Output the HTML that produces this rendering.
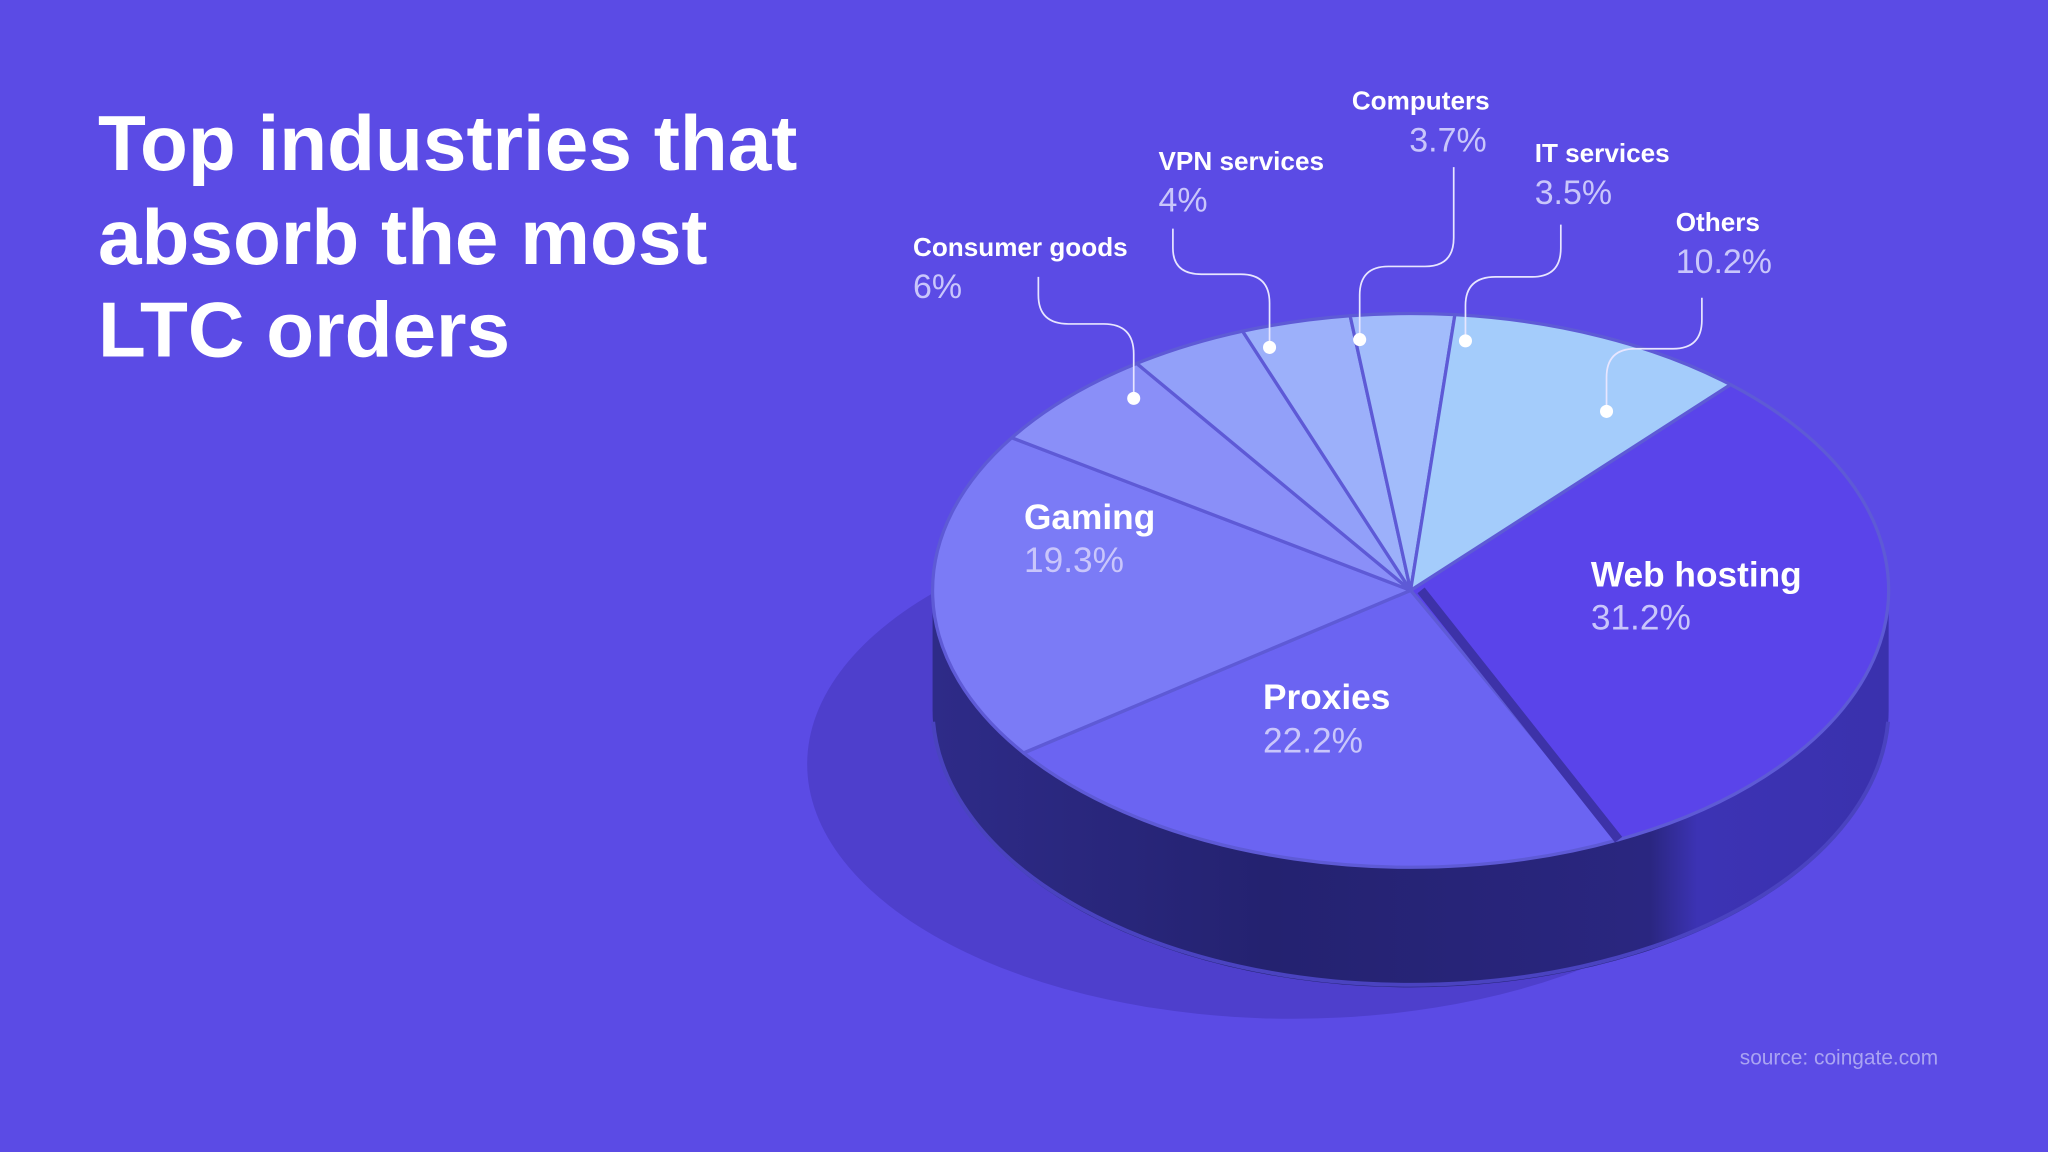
<!DOCTYPE html>
<html><head><meta charset="utf-8"><style>
html,body{margin:0;padding:0;background:#5b4be5;}
svg{display:block;font-family:"Liberation Sans",sans-serif;}
</style></head><body>
<svg id="chart" width="2048" height="1152" viewBox="0 0 1568 882" xmlns="http://www.w3.org/2000/svg">
<defs>
<linearGradient id="side" x1="0" x2="1" y1="0" y2="0">
<stop offset="0" stop-color="#2e2b88"/><stop offset="0.35" stop-color="#242270"/><stop offset="0.75" stop-color="#2a2680"/><stop offset="0.8" stop-color="#3c33b4"/><stop offset="1" stop-color="#3a31ad"/>
</linearGradient>
</defs>
<rect width="1568" height="882" fill="#5b4be5"/>
<text fill="#fff" font-size="60" font-weight="bold">
<tspan x="75" y="130">Top industries that</tspan><tspan x="75" y="202">absorb the most</tspan><tspan x="75" y="273">LTC orders</tspan></text>
<ellipse cx="990" cy="585" rx="372" ry="195" fill="#4e3fcc"/>
<g id="pie"></g>
<g id="labels"></g>
<text x="1332" y="815" font-size="16" fill="#aaa4f2">source: coingate.com</text>
</svg>
<script>
const categories=["Web hosting","Proxies","Gaming","Consumer goods","VPN services","Computers","IT services","Others"];
const values=[31.2,22.2,19.3,6,4,3.7,3.5,10.2];
const colors=["#5a44ea","#6b64f2","#7b7bf6","#8a8ff8","#92a0f9","#9cb0fa","#a2bcfb","#a4ccfb"];
const startDeg=-48;
const cx=1080,cy=452,rx=366,ry=212,depth=92;
const NS="http://www.w3.org/2000/svg";
const pie=document.getElementById('pie');
function P(t,dx,dy){return [cx+dx+rx*Math.cos(t),cy+dy+ry*Math.sin(t)];}
const total=values.reduce((a,b)=>a+b,0);
const side=document.createElementNS(NS,'path');
let d="M"+P(0,0,0).join(",")+" A"+rx+","+ry+" 0 0 1 "+P(Math.PI,0,0).join(",")+" L"+P(Math.PI,0,depth).join(",")+" A"+rx+","+ry+" 0 0 0 "+P(0,0,depth).join(",")+" Z";
side.setAttribute('d',d);side.setAttribute('fill','url(#side)');


pie.appendChild(side);
const rim=document.createElementNS(NS,'path');
rim.setAttribute('d',"M"+P(0.05,0,depth-2).join(",")+" A"+rx+","+ry+" 0 0 1 "+P(Math.PI-0.05,0,depth-2).join(","));
rim.setAttribute('fill','none');rim.setAttribute('stroke','#4a43c0');rim.setAttribute('stroke-width','3');


pie.appendChild(rim);
let a=startDeg*Math.PI/180;
values.forEach((v,i)=>{
  const sweep=v/total*2*Math.PI;
  const a0=a,a1=a+sweep;a=a1;
  const p0=P(a0,0,0),p1=P(a1,0,0);
  const s=document.createElementNS(NS,'path');
  s.setAttribute('d',`M${cx},${cy} L${p0.join(",")} A${rx},${ry} 0 ${sweep>Math.PI?1:0} 1 ${p1.join(",")} Z`);
  s.setAttribute('fill',colors[i]);
  s.setAttribute('stroke','#5e5ad6');s.setAttribute('stroke-width','2.5');s.setAttribute('stroke-linejoin','round');
  
  
  pie.appendChild(s);
});
const g1=P((startDeg*Math.PI/180)+values[0]/total*2*Math.PI,0,0);
const gap=document.createElementNS(NS,'path');
gap.setAttribute('d',`M${cx+8},${cy} L${g1.join(",")}`);
gap.setAttribute('stroke','#3d32a8');gap.setAttribute('stroke-width','7');


pie.appendChild(gap);

const lab=document.getElementById('labels');
function txt(x,y,s,size,fill,w,name){
  const t=document.createElementNS(NS,'text');
  t.setAttribute('x',x);t.setAttribute('y',y);t.setAttribute('font-size',size);t.setAttribute('fill',fill);
  if(w)t.setAttribute('font-weight',w);
  t.textContent=s;
  
  
  lab.appendChild(t);
}
const inner=[[0,1218,449],[1,967,543],[2,784,405]];
inner.forEach(([i,x,y])=>{
  txt(x,y,categories[i],27,'#fff','bold','label-'+i);
  txt(x,y+33,values[i]+'%',27,'#c9c6fb',null,'value-'+i);
});
const outer=[[3,699,196,"M795,212 V226 Q795,248 818,248 H845 Q868,248 868,271 V305",868,305],
[4,887,130,"M898,175 V190 Q898,210 920,210 H950 Q972,210 972,232 V266",972,266],
[5,1035,84,"M1113,128 V182 Q1113,204 1091,204 H1063 Q1041,204 1041,226 V260",1041,260],
[6,1175,124,"M1195,172 V190 Q1195,212 1173,212 H1145 Q1122,212 1122,234 V261",1122,261],
[7,1283,177,"M1303,228 V245 Q1303,267 1281,267 H1252 Q1230,267 1230,289 V315",1230,315]];
outer.forEach(([i,x,y,path,dx,dy])=>{
  txt(x,y,categories[i],20,'#fff','bold','label-'+i);
  const vx=(i===5)?x+44:x;
  txt(vx,y+32,values[i]+'%',26,'#c9c6fb',null,'value-'+i);
  const l=document.createElementNS(NS,'path');
  l.setAttribute('d',path);l.setAttribute('fill','none');l.setAttribute('stroke','#e8e6ff');l.setAttribute('stroke-width','1.3');
  
  
  lab.appendChild(l);
  const c=document.createElementNS(NS,'circle');
  c.setAttribute('cx',dx);c.setAttribute('cy',dy);c.setAttribute('r',5);c.setAttribute('fill','#fff');
  
  
  lab.appendChild(c);
});
</script>
</body></html>
